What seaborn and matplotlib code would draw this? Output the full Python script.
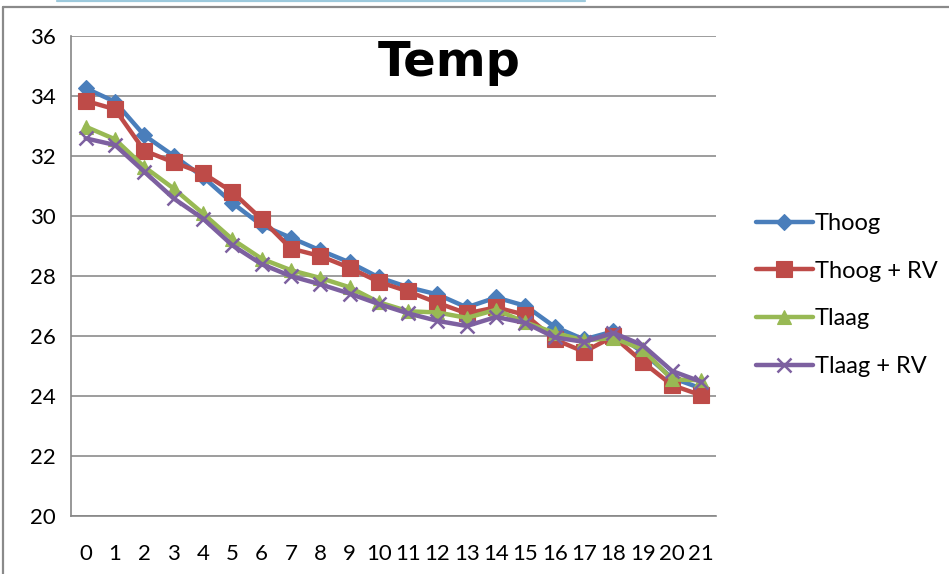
import matplotlib
matplotlib.use("Agg")
import matplotlib.pyplot as plt
from matplotlib.lines import Line2D
from matplotlib.ticker import MultipleLocator, FixedLocator
import seaborn as sns
import pandas as pd

hours = list(range(22))
tick_labels = [str(h) for h in hours]
thoog = [34.25, 33.8, 32.68, 32.0, 31.3, 30.43, 29.69, 29.27, 28.85, 28.45, 27.95,
         27.62, 27.38, 26.95, 27.28, 27.0, 26.3, 25.88, 26.15, 25.45, 24.6, 24.25]
thoog_rv = [33.83, 33.55, 32.17, 31.78, 31.42, 30.8, 29.89, 28.91, 28.66, 28.27, 27.8,
            27.48, 27.1, 26.75, 26.95, 26.7, 25.88, 25.47, 25.98, 25.13, 24.36, 24.02]
tlaag = [32.97, 32.55, 31.63, 30.91, 30.08, 29.22, 28.57, 28.19, 27.93, 27.62, 27.12,
         26.82, 26.78, 26.6, 26.87, 26.45, 26.1, 25.85, 25.93, 25.55, 24.55, 24.52]
tlaag_rv = [32.58, 32.36, 31.47, 30.58, 29.91, 29.02, 28.39, 27.99, 27.72, 27.41, 27.06,
            26.75, 26.5, 26.33, 26.63, 26.43, 25.95, 25.8, 26.1, 25.69, 24.83, 24.47]
series_names = ["Thoog", "Thoog + RV", "Tlaag", "Tlaag + RV"]
series_values = [thoog, thoog_rv, tlaag, tlaag_rv]

colors = ["#4A7EBB", "#BE4B48", "#98B954", "#7D60A0"]
markers = ["D", "s", "^", "x"]
msizes = [8, 11, 10, 10]

sns.set_style("white")
plt.rcParams["font.family"] = ["Lato", "DejaVu Sans"]
plt.rcParams["text.color"] = "black"

fig = plt.figure(figsize=(9.49, 5.74), dpi=100)
W, H = 949, 574
ax = fig.add_axes([71 / W, 1 - 516 / H, (716 - 71) / W, (516 - 35.7) / H])

for name, vals, c, m, ms in zip(series_names, series_values, colors, markers, msizes):
    df = pd.DataFrame({"hour": hours, "temp": vals})
    sns.lineplot(data=df, x="hour", y="temp", ax=ax, color=c, linewidth=3.2,
                 marker=m, markersize=ms, markeredgecolor=c, markerfacecolor=c,
                 markeredgewidth=1.8 if m == "x" else 0.8, label=name, zorder=3)

ax.set_xlim(-0.5, 21.5)
ax.set_ylim(20, 36)
ax.yaxis.set_major_locator(MultipleLocator(2))
ax.set_xticks(hours)
ax.set_xticklabels(tick_labels)
ax.xaxis.set_minor_locator(FixedLocator([i - 0.5 for i in range(23)]))
ax.tick_params(axis="x", which="major", length=0, pad=20, labelsize=16, labelcolor="black")
ax.tick_params(axis="x", which="minor", length=7, width=1.1, color="#868686", direction="out")
ax.tick_params(axis="y", which="major", length=7, width=1.1, color="#868686", direction="out",
               pad=4, labelsize=16, labelcolor="black")
ax.grid(axis="y", color="#8c8c8c", linewidth=1.2, zorder=0)
ax.grid(axis="x", visible=False)
ax.set_xlabel("")
ax.set_ylabel("")
for s in ["top", "right"]:
    ax.spines[s].set_visible(False)
for s in ["left", "bottom"]:
    ax.spines[s].set_color("#868686")
    ax.spines[s].set_linewidth(1.2)

leg = ax.legend(loc="upper left", bbox_to_anchor=(756 / W, 1 - 213 / H),
                bbox_transform=fig.transFigure, frameon=False, fontsize=17,
                handlelength=2.4, handletextpad=0.1, labelspacing=1.13,
                borderpad=0, borderaxespad=0)
for t in leg.get_texts():
    t.set_color("black")

fig.text(449 / W, 1 - 63 / H, "Temp", ha="center", va="center", fontsize=34.5,
         fontweight="bold", family="DejaVu Sans", color="black")

# chart frame lines
fig.add_artist(Line2D([3 / W, 1.0], [1 - 6.5 / H, 1 - 6.5 / H], transform=fig.transFigure,
                      color="#8a8a8a", linewidth=1.6))
fig.add_artist(Line2D([3 / W, 3 / W], [0, 1 - 6.5 / H], transform=fig.transFigure,
                      color="#8a8a8a", linewidth=1.6))
fig.add_artist(Line2D([57 / W, 585 / W], [1 - 0.7 / H, 1 - 0.7 / H], transform=fig.transFigure,
                      color="#9cc9dc", linewidth=1.6))

fig.savefig("out.png", dpi=100)
